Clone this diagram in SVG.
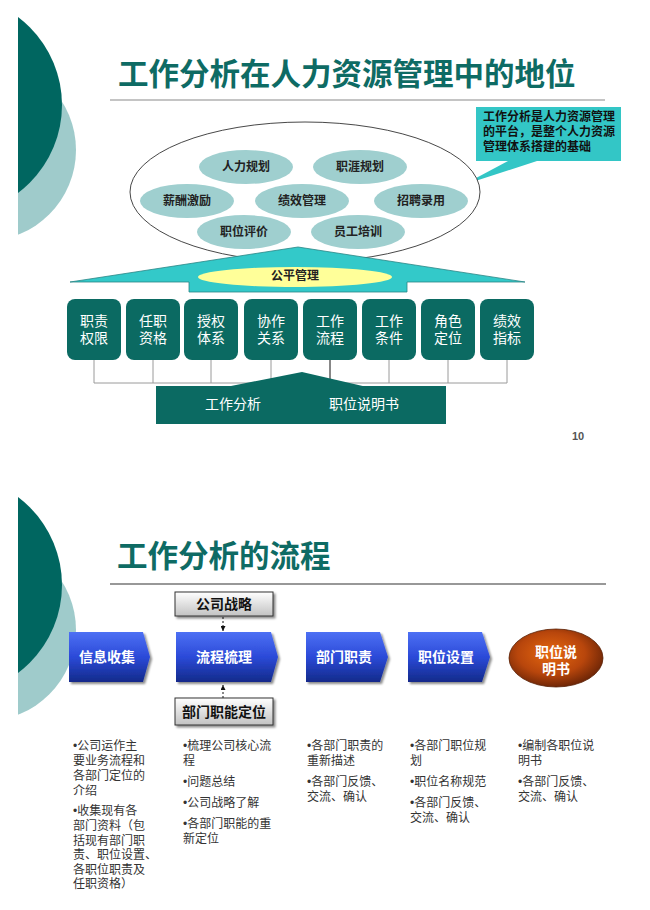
<svg xmlns="http://www.w3.org/2000/svg" width="650" height="910" viewBox="0 0 650 910">
<style>
text{font-family:"Liberation Sans","Noto Sans CJK SC",sans-serif;dominant-baseline:central}
.title{font-size:30.5px;font-weight:bold;fill:#0e6b64}
.el{font-size:12px;font-weight:bold;fill:#222;text-anchor:middle}
.box{fill:#0b6a62}
.bt{font-size:14px;fill:#fff;text-anchor:middle}
.cv{font-size:14px;fill:#fff;text-anchor:middle;font-weight:bold}
.gt{font-size:14px;fill:#111;text-anchor:middle;font-weight:bold}
.body{font-size:12px;fill:#333}
.conn{stroke:#9a9a9a;stroke-width:1;fill:none}
.dash{stroke:#111;stroke-width:1;stroke-dasharray:2,2;fill:none}
</style>
<defs>
<clipPath id="clipL"><rect x="18" y="0" width="640" height="910"/></clipPath>
<linearGradient id="blue" x1="0" y1="0" x2="0" y2="1">
<stop offset="0" stop-color="#4d70f4"/><stop offset="0.5" stop-color="#2b4ad8"/><stop offset="1" stop-color="#132a8a"/>
</linearGradient>
<linearGradient id="grey" x1="0" y1="0" x2="0" y2="1">
<stop offset="0" stop-color="#ffffff"/><stop offset="1" stop-color="#c2c2c2"/>
</linearGradient>
<radialGradient id="orange" cx="0.45" cy="0.42" r="0.6">
<stop offset="0" stop-color="#e6680f"/><stop offset="0.6" stop-color="#b8460c"/><stop offset="1" stop-color="#6a2406"/>
</radialGradient>
<filter id="sh" x="-10%" y="-10%" width="130%" height="140%">
<feDropShadow dx="2" dy="2" stdDeviation="1" flood-color="#000" flood-opacity="0.45"/>
</filter>
<marker id="ah" viewBox="0 0 6 6" refX="6" refY="3" markerWidth="5" markerHeight="5" orient="auto">
<path d="M0,0 L6,3 L0,6 Z" fill="#111"/>
</marker>
</defs>
<rect width="650" height="910" fill="#fff"/>

<!-- decorations -->
<g clip-path="url(#clipL)">
<circle cx="-15" cy="150" r="91" fill="#9fcbcb"/>
<circle cx="-48" cy="105" r="110" fill="#006660"/>
<circle cx="-15" cy="630" r="91" fill="#9fcbcb"/>
<circle cx="-48" cy="585" r="110" fill="#006660"/>
</g>

<!-- slide 1 -->
<text class="title" x="118" y="74">工作分析在人力资源管理中的地位</text>
<line x1="110" y1="100" x2="605" y2="100" stroke="#8a8a8a" stroke-width="1.2"/>

<g id="callout">
<path d="M476,107 H621 V161 H537 L463,185 L508,161 H476 Z" fill="#33c6c6"/>
<text x="483" y="117" font-size="12" font-weight="bold" fill="#111">工作分析是人力资源管理</text>
<text x="483" y="132" font-size="12" font-weight="bold" fill="#111">的平台，是整个人力资源</text>
<text x="483" y="147" font-size="12" font-weight="bold" fill="#111">管理体系搭建的基础</text>
</g>

<g id="hr-system">
<ellipse cx="305" cy="192" rx="175" ry="70" fill="#fff" stroke="#333" stroke-width="0.9"/>
</g>
<g id="e-rlgh"><ellipse cx="246" cy="167" rx="47" ry="17" fill="#9fcfcf"/><text class="el" x="246" y="167">人力规划</text></g>
<g id="e-zygh"><ellipse cx="360" cy="167" rx="47" ry="17" fill="#9fcfcf"/><text class="el" x="360" y="167">职涯规划</text></g>
<g id="e-xcjl"><ellipse cx="187" cy="201" rx="47" ry="17" fill="#9fcfcf"/><text class="el" x="187" y="201">薪酬激励</text></g>
<g id="e-jxgl"><ellipse cx="302" cy="201" rx="47" ry="17" fill="#9fcfcf"/><text class="el" x="302" y="201">绩效管理</text></g>
<g id="e-zply"><ellipse cx="421" cy="201" rx="47" ry="17" fill="#9fcfcf"/><text class="el" x="421" y="201">招聘录用</text></g>
<g id="e-zwpj"><ellipse cx="244" cy="232" rx="47" ry="17" fill="#9fcfcf"/><text class="el" x="244" y="232">职位评价</text></g>
<g id="e-ygpx"><ellipse cx="358" cy="232" rx="47" ry="17" fill="#9fcfcf"/><text class="el" x="358" y="232">员工培训</text></g>

<g id="roof">
<path d="M70,282 L298,247 L525,282 H407 V292 H189 V282 Z" fill="#33c9c9" stroke="#2a8585" stroke-width="0.8"/>
<ellipse cx="295" cy="277" rx="97" ry="10" fill="#ffff99"/>
<text class="el" x="295" y="276">公平管理</text>
</g>

<g id="connectors1">
<path class="conn" d="M94,360 V383 M153,360 V383 M211,360 V383 M271,360 V383 M389,360 V383 M448,360 V383 M507,360 V383 M94,383 H507"/>
<path d="M330,360 V383" stroke="#111" stroke-width="1"/>
</g>

<g id="b1"><rect class="box" x="67" y="299" width="54" height="61" rx="8"/><text class="bt" x="94" y="321">职责</text><text class="bt" x="94" y="338">权限</text></g>
<g id="b2"><rect class="box" x="126" y="299" width="54" height="61" rx="8"/><text class="bt" x="153" y="321">任职</text><text class="bt" x="153" y="338">资格</text></g>
<g id="b3"><rect class="box" x="184" y="299" width="54" height="61" rx="8"/><text class="bt" x="211" y="321">授权</text><text class="bt" x="211" y="338">体系</text></g>
<g id="b4"><rect class="box" x="244" y="299" width="54" height="61" rx="8"/><text class="bt" x="271" y="321">协作</text><text class="bt" x="271" y="338">关系</text></g>
<g id="b5"><rect class="box" x="303" y="299" width="54" height="61" rx="8"/><text class="bt" x="330" y="321">工作</text><text class="bt" x="330" y="338">流程</text></g>
<g id="b6"><rect class="box" x="362" y="299" width="54" height="61" rx="8"/><text class="bt" x="389" y="321">工作</text><text class="bt" x="389" y="338">条件</text></g>
<g id="b7"><rect class="box" x="421" y="299" width="54" height="61" rx="8"/><text class="bt" x="448" y="321">角色</text><text class="bt" x="448" y="338">定位</text></g>
<g id="b8"><rect class="box" x="480" y="299" width="54" height="61" rx="8"/><text class="bt" x="507" y="321">绩效</text><text class="bt" x="507" y="338">指标</text></g>

<g id="base">
<path class="box" d="M226,387 L302,372 L367,387 Z"/>
<rect class="box" x="156" y="386" width="290" height="38"/>
<text class="bt" x="233" y="404">工作分析</text>
<text class="bt" x="364" y="404">职位说明书</text>
</g>
<text x="578" y="436" font-size="11" font-weight="bold" fill="#555" text-anchor="middle">10</text>

<!-- slide 2 -->
<text class="title" x="117" y="556">工作分析的流程</text>
<line x1="110" y1="584" x2="606" y2="584" stroke="#333" stroke-width="1.2"/>

<g id="connectors2">
<line class="dash" x1="223" y1="617" x2="223" y2="631" marker-end="url(#ah)"/>
<line class="dash" x1="223" y1="698" x2="223" y2="685" marker-end="url(#ah)"/>
</g>

<g id="gszl"><rect x="175" y="592" width="98" height="24" fill="url(#grey)" stroke="#333" stroke-width="1" filter="url(#sh)"/><text class="gt" x="224" y="604">公司战略</text></g>
<g id="bmznd"><rect x="175" y="698" width="98" height="27" fill="url(#grey)" stroke="#333" stroke-width="1" filter="url(#sh)"/><text class="gt" x="224" y="711.5">部门职能定位</text></g>

<g id="c1"><path d="M69,632 H143 L150,657 L143,682 H69 Z" fill="url(#blue)" filter="url(#sh)"/><text class="cv" x="107" y="657">信息收集</text></g>
<g id="c2"><path d="M176,632 H271 L278,657 L271,682 H176 Z" fill="url(#blue)" filter="url(#sh)"/><text class="cv" x="224" y="657">流程梳理</text></g>
<g id="c3"><path d="M306,632 H380 L388,657 L380,682 H306 Z" fill="url(#blue)" filter="url(#sh)"/><text class="cv" x="344" y="657">部门职责</text></g>
<g id="c4"><path d="M408,632 H482 L490,657 L482,682 H408 Z" fill="url(#blue)" filter="url(#sh)"/><text class="cv" x="446" y="657">职位设置</text></g>
<g id="c5"><ellipse cx="556" cy="658" rx="47" ry="29" fill="url(#orange)" stroke="#5a2208" stroke-width="0.8"/><text class="cv" x="556" y="652">职位说</text><text class="cv" x="556" y="669">明书</text></g>

<g id="col1">
<text class="body" x="73" y="746">•公司运作主</text>
<text class="body" x="73" y="761">要业务流程和</text>
<text class="body" x="73" y="776">各部门定位的</text>
<text class="body" x="73" y="791">介绍</text>
<text class="body" x="73" y="811">•收集现有各</text>
<text class="body" x="73" y="826">部门资料（包</text>
<text class="body" x="73" y="840.5">括现有部门职</text>
<text class="body" x="73" y="855">责、职位设置、</text>
<text class="body" x="73" y="869.5">各职位职责及</text>
<text class="body" x="73" y="884">任职资格）</text>
</g>
<g id="col2">
<text class="body" x="183" y="746">•梳理公司核心流</text>
<text class="body" x="183" y="761">程</text>
<text class="body" x="183" y="782">•问题总结</text>
<text class="body" x="183" y="803">•公司战略了解</text>
<text class="body" x="183" y="824">•各部门职能的重</text>
<text class="body" x="183" y="839">新定位</text>
</g>
<g id="col3">
<text class="body" x="307" y="746">•各部门职责的</text>
<text class="body" x="307" y="761">重新描述</text>
<text class="body" x="307" y="782">•各部门反馈、</text>
<text class="body" x="307" y="797">交流、确认</text>
</g>
<g id="col4">
<text class="body" x="410" y="746">•各部门职位规</text>
<text class="body" x="410" y="761">划</text>
<text class="body" x="410" y="782">•职位名称规范</text>
<text class="body" x="410" y="803">•各部门反馈、</text>
<text class="body" x="410" y="818">交流、确认</text>
</g>
<g id="col5">
<text class="body" x="518" y="746">•编制各职位说</text>
<text class="body" x="518" y="761">明书</text>
<text class="body" x="518" y="782">•各部门反馈、</text>
<text class="body" x="518" y="797">交流、确认</text>
</g>
</svg>
